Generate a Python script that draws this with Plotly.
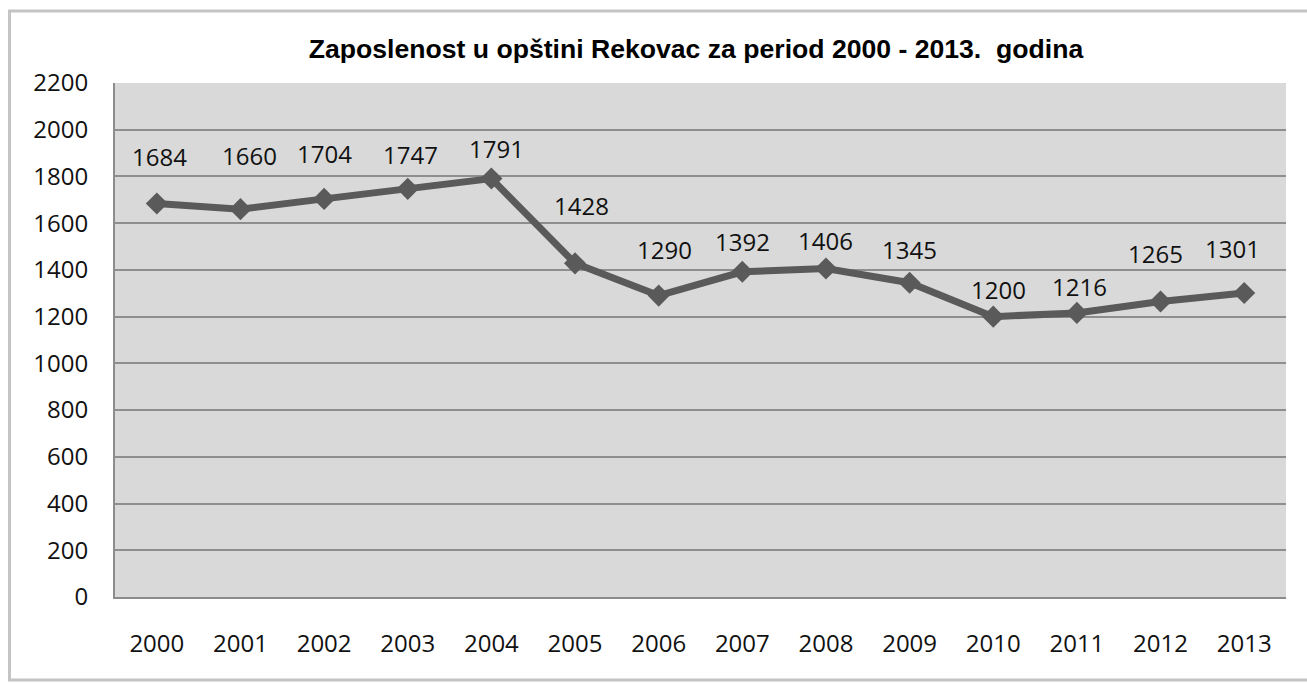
import plotly.graph_objects as go

years = [2000, 2001, 2002, 2003, 2004, 2005, 2006,
         2007, 2008, 2009, 2010, 2011, 2012, 2013]
employment = [1684, 1660, 1704, 1747, 1791, 1428, 1290,
              1392, 1406, 1345, 1200, 1216, 1265, 1301]
y_ticks = [0, 200, 400, 600, 800, 1000, 1200, 1400, 1600, 1800, 2000, 2200]

title_text = "Zaposlenost u opštini Rekovac za period 2000 - 2013.&nbsp; godina"

# label placement offsets (pixels), as positioned in the original chart
label_dy = [47, 54, 45, 34, 30, 58, 46, 30, 28, 33, 27, 26, 48, 45]
label_dx = [3, 9, 0, 3, 5, 6, 6, 0, 0, 0, 5, 3, -5, -12]

W, H = 1307, 683
L, R, T, B = 115, 1286, 83, 597
FONT = "Open Sans, Lato, sans-serif"

fig = go.Figure()
fig.add_trace(go.Scatter(
    x=years, y=employment, mode="lines+markers",
    line=dict(color="#5a5a5a", width=7),
    marker=dict(symbol="diamond", size=17, color="#5a5a5a"),
    hoverinfo="x+y", showlegend=False,
))

for yr, v, dy, dx in zip(years, employment, label_dy, label_dx):
    fig.add_annotation(x=yr, y=v, text=str(v), showarrow=False,
                       yshift=dy, xshift=dx,
                       font=dict(family=FONT, size=24, color="#111111"))

def px(x):
    return (x - L) / (R - L)

def py(y):
    return (B - y) / (B - T)

# outer chart frame
fig.add_shape(type="rect", xref="paper", yref="paper",
              x0=px(9.5), x1=px(1312), y0=py(680), y1=py(11),
              line=dict(color="#c4c4c4", width=3), layer="below")

fig.update_layout(
    width=W, height=H,
    margin=dict(l=L, r=W - R, t=T, b=H - B),
    paper_bgcolor="white",
    plot_bgcolor="#d9d9d9",
    title=dict(text=title_text, x=696 / W, xanchor="center",
               y=1 - 49 / H, yanchor="middle",
               font=dict(family="Liberation Sans, Arial", size=26.6, color="#000000", weight="bold")),
    xaxis=dict(range=[years[0] - 0.5, years[-1] + 0.5], tickvals=years,
               showgrid=False, zeroline=False,
               showline=True, linecolor="#8c8c8c", linewidth=2,
               ticks="", ticklabelstandoff=24,
               tickfont=dict(family=FONT, size=24, color="#111111")),
    yaxis=dict(range=[0, 2200], tickvals=y_ticks, showgrid=True,
               gridcolor="#8e8e8e", gridwidth=2, zeroline=False,
               showline=True, linecolor="#8c8c8c", linewidth=2,
               ticks="", ticklabelstandoff=20,
               tickfont=dict(family=FONT, size=24, color="#111111")),
)

fig.write_html("out.html", config={"displayModeBar": False},
               post_script="document.body.style.margin='0';")
